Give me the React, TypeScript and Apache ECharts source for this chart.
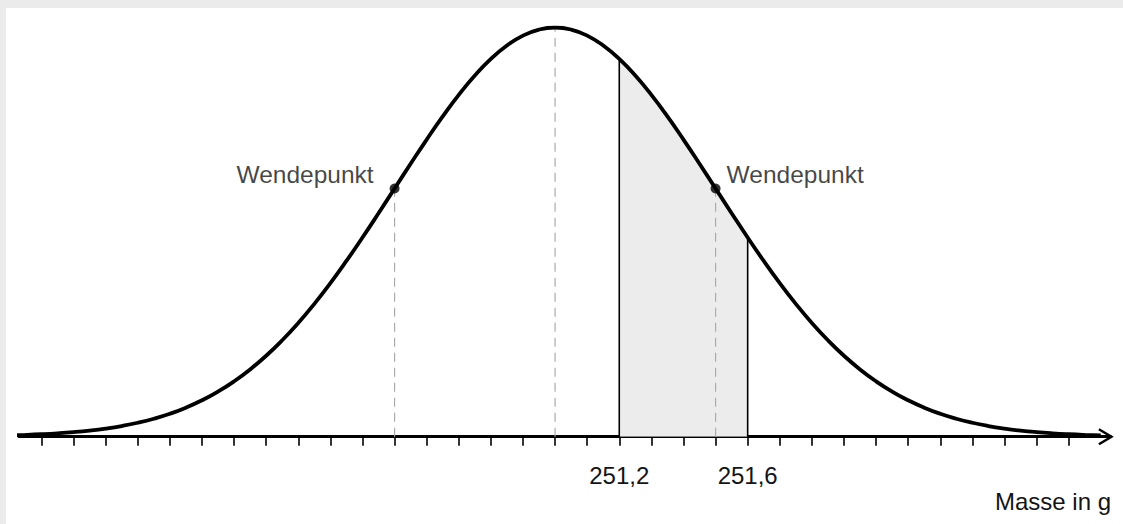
import React, { useEffect, useRef } from "react";
import * as echarts from "echarts";

// Mass values (g) and relative density of the bell curve
const massValues = [
  249.3, 249.35, 249.4, 249.45, 249.5, 249.55, 249.6, 249.65, 249.7, 249.75, 249.8, 249.85,
  249.9, 249.95, 250.0, 250.05, 250.1, 250.15, 250.2, 250.25, 250.3, 250.35, 250.4, 250.45,
  250.5, 250.55, 250.6, 250.65, 250.7, 250.75, 250.8, 250.85, 250.9, 250.95, 251.0, 251.05,
  251.1, 251.15, 251.2, 251.25, 251.3, 251.35, 251.4, 251.45, 251.5, 251.55, 251.6, 251.65,
  251.7, 251.75, 251.8, 251.85, 251.9, 251.95, 252.0, 252.05, 252.1, 252.15, 252.2, 252.25,
  252.3, 252.35, 252.4, 252.45, 252.5, 252.55, 252.6, 252.65, 252.7,
];
const densityValues = [
  0.00309, 0.00431, 0.00598, 0.00819, 0.01111, 0.01492, 0.01984, 0.02612, 0.03405, 0.04394,
  0.05613, 0.071, 0.08892, 0.11025, 0.13534, 0.16447, 0.1979, 0.23575, 0.27804, 0.32465,
  0.37531, 0.42956, 0.48675, 0.54607, 0.60653, 0.66698, 0.72615, 0.78271, 0.83527, 0.8825,
  0.92312, 0.956, 0.9802, 0.99501, 1.0, 0.99501, 0.9802, 0.956, 0.92312, 0.8825,
  0.83527, 0.78271, 0.72615, 0.66698, 0.60653, 0.54607, 0.48675, 0.42956, 0.37531, 0.32465,
  0.27804, 0.23575, 0.1979, 0.16447, 0.13534, 0.11025, 0.08892, 0.071, 0.05613, 0.04394,
  0.03405, 0.02612, 0.01984, 0.01492, 0.01111, 0.00819, 0.00598, 0.00431, 0.00309,
];
const shadedMass = [251.2, 251.25, 251.3, 251.35, 251.4, 251.45, 251.5, 251.55, 251.6];
const shadedDensity = [0.92312, 0.8825, 0.83527, 0.78271, 0.72615, 0.66698, 0.60653, 0.54607, 0.48675];
const boundaryMass = [251.2, 251.6];
const boundaryDensity = [0.92312, 0.48675];
const meanMass = 251.0;
const meanDensity = 1.0;
const inflectionMass = [250.5, 251.5];
const inflectionDensity = [0.60653, 0.60653];
const inflectionLabels = ["Wendepunkt", "Wendepunkt"];
const tickValues = [
  249.4, 249.5, 249.6, 249.7, 249.8, 249.9, 250.0, 250.1, 250.2, 250.3, 250.4, 250.5,
  250.6, 250.7, 250.8, 250.9, 251.0, 251.1, 251.2, 251.3, 251.4, 251.5, 251.6, 251.7,
  251.8, 251.9, 252.0, 252.1, 252.2, 252.3, 252.4, 252.5, 252.6,
];
const tickLabelValues = [251.2, 251.6];
const axisTitle = "Masse in g";
const xMin = 249.33;
const xMax = 252.73;

const FONT = "'Liberation Sans', Arial, Helvetica, sans-serif";
const TEXT_COLOR = "#141414";

export default function App() {
  const ref = useRef<HTMLDivElement>(null);

  useEffect(() => {
    document.body.style.margin = "0";
    if (!ref.current) return;
    const chart = echarts.init(ref.current, undefined, { renderer: "svg" });

    const dashed = (x: number, y: number) => ({
      type: "line",
      data: [
        [x, 0],
        [x, y],
      ],
      symbol: "none",
      silent: true,
      lineStyle: { color: "#aaaaaa", width: 1.2, type: [9, 6] },
      z: 3,
    });

    const option: any = {
      animation: false,
      backgroundColor: "#ffffff",
      grid: { left: 13, right: 12.6, top: 19.5, bottom: 87.3 },
      xAxis: {
        type: "value",
        min: xMin,
        max: xMax,
        axisLine: { show: true, lineStyle: { color: "#000", width: 3 } },
        axisTick: {
          show: true,
          customValues: tickValues,
          length: 9,
          lineStyle: { color: "#000", width: 1.6 },
        },
        axisLabel: {
          show: true,
          customValues: tickLabelValues,
          formatter: (v: number) => v.toFixed(1).replace(".", ","),
          fontSize: 24,
          fontFamily: FONT,
          color: TEXT_COLOR,
          margin: 27,
        },
        splitLine: { show: false },
      },
      yAxis: {
        type: "value",
        min: 0,
        max: 1,
        show: false,
      },
      series: [
        {
          type: "line",
          data: shadedMass.map((m, i) => [m, shadedDensity[i]]),
          smooth: true,
          symbol: "none",
          lineStyle: { width: 0 },
          areaStyle: { color: "#ececec", opacity: 1 },
          z: 1,
        },
        ...inflectionMass.map((m, i) => dashed(m, inflectionDensity[i])),
        dashed(meanMass, meanDensity),
        ...boundaryMass.map((m, i) => ({
          type: "line",
          data: [
            [m, 0],
            [m, boundaryDensity[i]],
          ],
          symbol: "none",
          lineStyle: { color: "#000", width: 1.6 },
          z: 4,
        })),
        {
          type: "line",
          data: massValues.map((m, i) => [m, densityValues[i]]),
          smooth: true,
          symbol: "none",
          lineStyle: { color: "#000", width: 3.8 },
          z: 5,
        },
        {
          type: "scatter",
          symbolSize: 10,
          itemStyle: { color: "#000" },
          z: 6,
          data: inflectionMass.map((m, i) => ({
            value: [m, inflectionDensity[i]],
            label: {
              show: true,
              formatter: inflectionLabels[i],
              position: i === 0 ? "left" : "right",
              distance: i === 0 ? 16 : 6,
              offset: [0, -14],
              fontSize: 24.5,
              fontFamily: FONT,
              color: TEXT_COLOR,
            },
          })),
        },
      ],
    };
    chart.setOption(option);

    const [ex, ey] = chart.convertToPixel({ gridIndex: 0 }, [xMax, 0]) as number[];
    chart.setOption({
      graphic: [
        {
          type: "polyline",
          shape: {
            points: [
              [ex - 11.5, ey - 7.5],
              [ex + 1, ey],
              [ex - 11.5, ey + 7.5],
            ],
          },
          style: { stroke: "#000", lineWidth: 2.5, fill: "none" },
          z: 10,
        },
        {
          type: "text",
          x: ex + 0.6,
          y: 481.5,
          style: {
            text: axisTitle,
            fontSize: 24,
            fontFamily: FONT,
            fill: TEXT_COLOR,
            align: "right",
            verticalAlign: "top",
          },
        },
      ],
    });

    return () => chart.dispose();
  }, []);

  return (
    <div style={{ position: "relative", width: 1123, height: 524, background: "#ebebeb" }}>
      <div
        ref={ref}
        style={{ position: "absolute", left: 6, top: 8, width: 1117, height: 516, background: "#fff" }}
      />
    </div>
  );
}
